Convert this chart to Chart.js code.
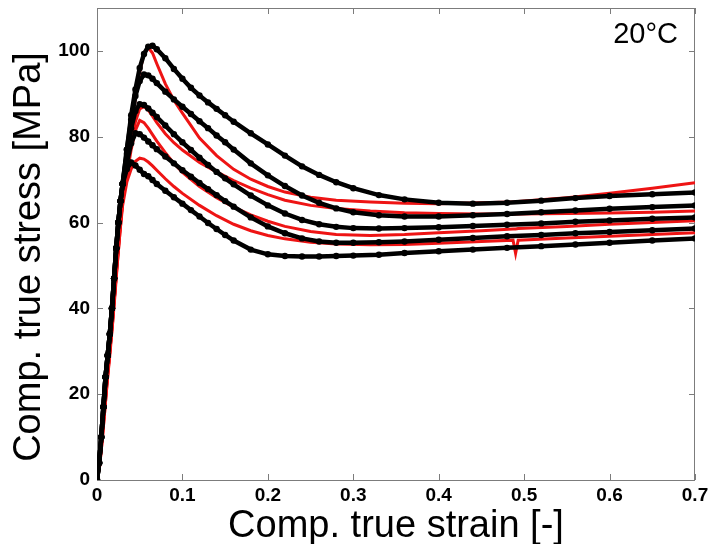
<!DOCTYPE html>
<html>
<head>
<meta charset="utf-8">
<script src="https://cdn.jsdelivr.net/npm/chart.js@4"></script>
<style>
  html, body { margin: 0; padding: 0; background: #fff; }
</style>
</head>
<body>
<canvas id="chart" width="709" height="544"></canvas>
<script>
// simulated (black, with markers) – strain grid shared by the five curves
const simStrain = [0, 0.0025, 0.005, 0.0075, 0.01, 0.0125, 0.015, 0.0175, 0.02, 0.0225, 0.025, 0.0275, 0.03,
  0.035, 0.04, 0.045, 0.05, 0.055, 0.06, 0.065, 0.07, 0.08, 0.09, 0.1, 0.11, 0.12, 0.13, 0.14, 0.15, 0.16,
  0.18, 0.2, 0.22, 0.24, 0.26, 0.28, 0.3, 0.33, 0.36, 0.4, 0.44, 0.48, 0.52, 0.56, 0.6, 0.65, 0.7];

const sim1 = [0, 4, 10, 17, 24, 29, 34, 40, 47, 54, 60, 65, 69,
  77, 85, 91, 96, 99.3, 101, 101.2, 100.4, 98.3, 95.8, 93.5, 91.4, 89.6, 88, 86.5, 85, 83.5,
  80.8, 78.2, 75.6, 73.1, 71.1, 69.4, 68, 66.4, 65.4, 64.6, 64.4, 64.6, 65.1, 65.7, 66.2, 66.6, 67];
const sim2 = [0, 4, 10, 17, 24, 29, 34, 40, 47, 54, 60, 65, 69,
  77, 84, 89.5, 93, 94.5, 94.3, 93.5, 92.5, 90.5, 88.7, 87, 85.3, 83.6, 82, 80.3, 78.7, 77,
  73.8, 71, 68.5, 66.3, 64.6, 63.3, 62.4, 61.7, 61.4, 61.4, 61.7, 62, 62.4, 62.8, 63.2, 63.6, 64];
const sim3 = [0, 4, 10, 17, 24, 29, 34, 40, 47, 54, 60, 65, 69,
  76, 82, 86, 87.6, 87.4, 86.6, 85.6, 84.6, 82.6, 80.6, 78.7, 76.9, 75.1, 73.4, 71.8, 70.3, 68.9,
  66.3, 64, 62.1, 60.6, 59.6, 59, 58.7, 58.6, 58.7, 58.9, 59.2, 59.5, 59.8, 60.2, 60.5, 60.9, 61.2];
const sim4 = [0, 4, 10, 17, 24, 29, 34, 40, 47, 54, 60, 65, 69,
  74, 78.5, 80.8, 80.6, 79.8, 78.9, 78, 77.1, 75.4, 73.8, 72.2, 70.7, 69.2, 67.8, 66.4, 65, 63.7,
  61.2, 59.1, 57.5, 56.3, 55.6, 55.3, 55.3, 55.4, 55.6, 56, 56.4, 56.8, 57.1, 57.5, 57.8, 58.2, 58.6];
const sim5 = [0, 4, 10, 17, 24, 29, 34, 40, 47, 54, 60, 65, 69,
  72.5, 74, 73.3, 72.3, 71.3, 70.8, 69.9, 69, 67.4, 65.9, 64.4, 62.9, 61.4, 59.9, 58.5, 57.1, 55.8,
  53.7, 52.6, 52.2, 52.1, 52.1, 52.2, 52.3, 52.5, 52.9, 53.3, 53.7, 54.1, 54.5, 54.9, 55.3, 55.8, 56.3];

// measured (red)
const expStrain = [0, 0.003, 0.006, 0.009, 0.012, 0.015, 0.018, 0.021, 0.024, 0.027, 0.03,
  0.035, 0.04, 0.045, 0.05, 0.055, 0.06, 0.065, 0.07, 0.08, 0.09, 0.1, 0.12, 0.14, 0.16, 0.18,
  0.2, 0.22, 0.25, 0.28, 0.32, 0.36, 0.4, 0.45, 0.487, 0.49, 0.493, 0.55, 0.6, 0.65, 0.7];

const exp1 = [0, 4, 10, 17, 24, 30, 37, 44, 52, 59, 65,
  74, 82, 89, 95, 99.5, 100.8, 99.5, 97, 92.3, 88.5, 85.5, 79.7, 75.6, 72.4, 70.1,
  68.4, 67.1, 65.9, 65.2, 64.8, 64.5, 64.4, 64.6, 64.8, 64.8, 64.9, 65.8, 66.8, 68, 69.3];
const exp2 = [0, 3, 9, 16, 23, 30, 36, 44, 51, 58, 65,
  72, 78.5, 83.5, 86.5, 87, 86.2, 84.8, 83.3, 80.7, 78.6, 76.9, 74, 71.8, 69.8, 68,
  66.5, 65.2, 64, 63.3, 62.7, 62.3, 62.1, 62, 62, 62, 62, 62.1, 62.2, 62.4, 62.7];
const exp3 = [0, 4, 10, 17, 24, 30, 37, 44, 52, 59, 65,
  71, 77, 81.5, 83.8, 83.3, 82, 80.5, 79, 76.3, 73.8, 71.7, 68.4, 65.8, 63.6, 61.8,
  60.3, 59.1, 57.9, 57.2, 57, 57.2, 57.6, 58.1, 58.5, 58.5, 58.6, 59.1, 59.6, 60, 60.4];
const exp4 = [0, 3, 9, 16, 23, 29, 36, 43, 51, 58, 64,
  69.5, 72.5, 74.3, 75, 74.8, 74.1, 73.2, 72.2, 70.2, 68.4, 66.8, 64, 61.6, 59.6, 58.1,
  57, 56.2, 55.4, 55, 54.8, 54.9, 55.2, 55.6, 55.9, 52.8, 55.9, 56.4, 56.8, 57.2, 57.6];

const xTicks = { min: 0, max: 0.7, step: 0.1 };
const yTicks = { min: 0, max: 110, step: 20 };

const toPoints = (xs, ys) => xs.map((v, i) => ({ x: v, y: ys[i] }));

const simSets = [sim1, sim2, sim3, sim4, sim5].map(s => ({
  data: toPoints(simStrain, s),
  showLine: true,
  borderColor: '#000',
  borderWidth: 4.5,
  pointRadius: 3.2,
  pointBorderWidth: 0,
  pointBackgroundColor: '#000'
}));

const expSets = [exp1, exp2, exp3, exp4].map(s => ({
  data: toPoints(expStrain, s),
  showLine: true,
  borderColor: 'rgb(238,20,20)',
  borderWidth: 3,
  pointRadius: 0
}));

const tickFont = { family: '"Liberation Sans", Arial, sans-serif', size: 19, weight: 'bold', lineHeight: 1 };

// frame with inward ticks on all four sides, axis titles, temperature label
const framePlugin = {
  id: 'frame',
  beforeDatasetsDraw(chart) {
    const { ctx, chartArea: a, scales: { x, y } } = chart;
    ctx.save();
    ctx.strokeStyle = '#7c7c7c';
    ctx.lineWidth = 1;
    ctx.strokeRect(a.left + 0.5, a.top + 0.5, a.right - a.left - 1, a.bottom - a.top);
    ctx.beginPath();
    x.ticks.forEach(t => {
      const p = Math.round(x.getPixelForValue(t.value)) + 0.5;
      ctx.moveTo(p, a.bottom); ctx.lineTo(p, a.bottom - 6);
      ctx.moveTo(p, a.top); ctx.lineTo(p, a.top + 6);
    });
    y.ticks.forEach(t => {
      const p = Math.round(y.getPixelForValue(t.value)) + 0.5;
      ctx.moveTo(a.left, p); ctx.lineTo(a.left + 6, p);
      ctx.moveTo(a.right, p); ctx.lineTo(a.right - 6, p);
    });
    ctx.stroke();
    ctx.restore();
  },
  afterDraw(chart) {
    const { ctx, chartArea: a } = chart;
    ctx.save();
    ctx.fillStyle = '#000';
    ctx.font = '38px "Liberation Sans", Arial, sans-serif';
    ctx.textAlign = 'center';
    ctx.textBaseline = 'alphabetic';
    ctx.fillText('Comp. true strain [-]', (a.left + a.right) / 2, 537);
    ctx.translate(40, 257);
    ctx.rotate(-Math.PI / 2);
    ctx.fillText('Comp. true stress [MPa]', 0, 0);
    ctx.restore();
    ctx.save();
    ctx.fillStyle = '#000';
    ctx.font = '29px "Liberation Sans", Arial, sans-serif';
    ctx.textAlign = 'right';
    ctx.fillText('20°C', 678, 43);
    ctx.restore();
  }
};

new Chart(document.getElementById('chart'), {
  type: 'scatter',
  data: { datasets: [...simSets, ...expSets] },
  options: {
    responsive: false,
    animation: false,
    devicePixelRatio: 1,
    layout: { padding: { left: 0, right: 14, top: 8, bottom: 0 } },
    plugins: { legend: { display: false }, tooltip: { enabled: false } },
    scales: {
      x: {
        type: 'linear',
        min: xTicks.min,
        max: xTicks.max,
        grid: { display: false, drawTicks: false },
        border: { display: false },
        ticks: { stepSize: xTicks.step, includeBounds: false, color: '#000', font: tickFont, padding: 6, maxRotation: 0 },
        afterFit(s) { s.height = 64; s.paddingLeft = 0; s.paddingRight = 0; }
      },
      y: {
        type: 'linear',
        min: yTicks.min,
        max: yTicks.max,
        grid: { display: false, drawTicks: false },
        border: { display: false },
        ticks: { stepSize: yTicks.step, includeBounds: false, color: '#000', font: tickFont, padding: 7 },
        afterFit(s) { s.width = 97; s.paddingTop = 0; s.paddingBottom = 0; }
      }
    }
  },
  plugins: [framePlugin]
});
</script>
</body>
</html>
